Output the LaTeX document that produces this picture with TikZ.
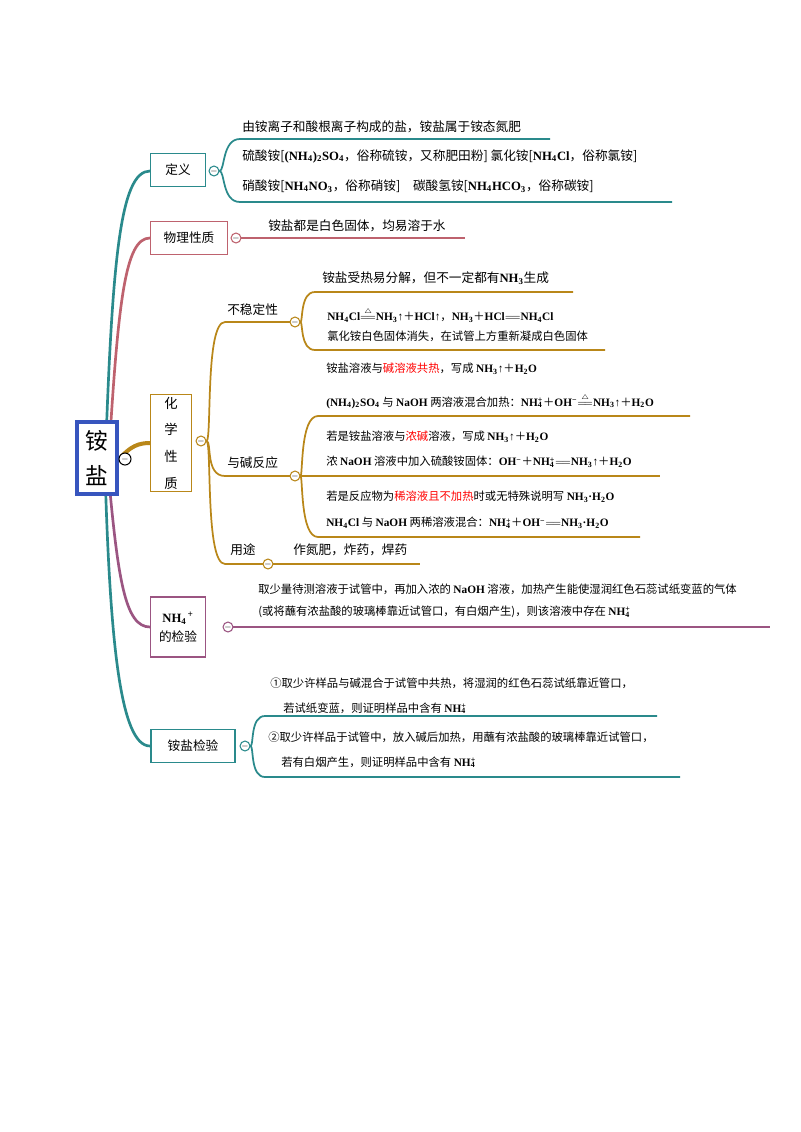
\documentclass[tikz,border=0pt]{standalone}
\usepackage{fontspec}
\setmainfont{Noto Sans CJK SC}
\newfontfamily\lat{Liberation Serif}
\newcommand\F[1]{{\lat\bfseries #1}}
\newcommand\sub[1]{\textsubscript{#1}}
\newcommand\pl{{\normalfont＋}}
\newcommand\nhf{\F{NH\rlap{\textsubscript{4}}\textsuperscript{+}}}
\newcommand\heq{$\stackrel{\scriptscriptstyle\triangle}{=\!=}$}
\definecolor{cteal}{RGB}{42,138,140}
\definecolor{crose}{RGB}{190,98,110}
\definecolor{cgold}{RGB}{185,135,25}
\definecolor{cpurp}{RGB}{155,85,130}
\definecolor{cblue}{RGB}{55,85,190}
\begin{document}
\begin{tikzpicture}[x=0.75pt,y=-0.75pt,
  every node/.style={font=\fontsize{9.5}{11}\selectfont},
  txt/.style={anchor=west,inner sep=0},
  box/.style={draw=#1,line width=1pt,fill=white,inner sep=2pt,align=center},
  circ/.style={circle,draw=#1,fill=white,line width=0.8pt,inner sep=0,minimum size=7pt,font=\fontsize{6}{6}\selectfont,text=black},
  br/.style={draw=#1,line width=1.3pt}]
\fill[white] (0,0) rectangle (800,1132);
% main branches
\draw[br=cteal,line width=2pt] (105,470) .. controls (112,260) and (120,171) .. (150,171);
\draw[br=crose,line width=2pt] (108,470) .. controls (118,300) and (125,238) .. (150,238);
\draw[br=cgold,line width=3pt] (117,462) .. controls (130,445) and (140,443) .. (150,443);
\draw[br=cpurp,line width=2pt] (108,470) .. controls (118,580) and (125,627) .. (150,627);
\draw[br=cteal,line width=2pt] (105,470) .. controls (110,640) and (120,746) .. (150,746);
% root
\node[box=cblue,line width=2.5pt,minimum width=30pt,minimum height=54pt,font=\fontsize{17}{26}\selectfont] (root) at (97,458) {铵\\盐};
\node[circ=black,minimum size=9pt] (rc) at (125,459) {$-$};
% 定义
\node[box=cteal,minimum width=41pt,minimum height=25pt] (def) at (178,170) {定义};
\node[circ=cteal] (dc) at (214,171) {$-$};
\draw[br=cteal] (dc) .. controls (225,171) and (222,139) .. (240,139) -- (550,139);
\draw[br=cteal] (dc) .. controls (225,171) and (222,202) .. (240,202) -- (672,202);
\node[txt] (d1) at (242,127) {由铵离子和酸根离子构成的盐，铵盐属于铵态氮肥};
\node[txt] (d2) at (242,156) {硫酸铵[\F{(NH\sub4)\sub2SO\sub4}，俗称硫铵，又称肥田粉] 氯化铵[\F{NH\sub4Cl}，俗称氯铵]};
\node[txt] (d3) at (242,186) {硝酸铵[\F{NH\sub4NO\sub3}，俗称硝铵]\quad 碳酸氢铵[\F{NH\sub4HCO\sub3}，俗称碳铵]};
% 物理性质
\node[box=crose,minimum width=58pt,minimum height=25pt] (phy) at (189,238) {物理性质};
\node[circ=crose] (pc) at (236,238) {$-$};
\draw[br=crose] (pc) -- (465,238);
\node[txt] (p1) at (268,226) {铵盐都是白色固体，均易溶于水};
% 化学性质
\node[box=cgold,minimum width=31pt,minimum height=67pt,font=\fontsize{10}{20}\selectfont] (chem) at (171,443) {化\\学\\性\\质};
\node[circ=cgold] (cc) at (201,441) {$-$};
\draw[br=cgold] (cc) .. controls (212,441) and (205,322) .. (225,322) -- (290,322);
\draw[br=cgold] (cc) .. controls (212,441) and (205,476) .. (225,476) -- (290,476);
\draw[br=cgold] (cc) .. controls (212,441) and (205,564) .. (225,564) -- (263,564);
\node[txt] (u) at (227,310) {不稳定性};
\node[circ=cgold] (uc) at (295,322) {$-$};
\draw[br=cgold] (uc) .. controls (303,322) and (300,292) .. (315,292) -- (573,292);
\draw[br=cgold] (uc) .. controls (303,322) and (300,350) .. (315,350) -- (605,350);
\node[txt] (u1) at (322,278) {铵盐受热易分解，但不一定都有\F{NH\sub3}生成};
\node[txt,font=\fontsize{8.5}{10}\selectfont] (u2) at (327,315) {\F{NH\sub4Cl}\heq\F{NH\sub3↑}\pl\F{HCl↑}，\F{NH\sub3}\pl\F{HCl}$=\!=$\F{NH\sub4Cl}};
\node[txt,font=\fontsize{8.5}{10}\selectfont] (u3) at (327,336) {氯化铵白色固体消失，在试管上方重新凝成白色固体};
\node[txt] (b) at (227,463) {与碱反应};
\node[circ=cgold] (bc) at (295,476) {$-$};
\draw[br=cgold] (bc) .. controls (303,476) and (300,416) .. (318,416) -- (690,416);
\draw[br=cgold] (bc) -- (660,476);
\draw[br=cgold] (bc) .. controls (303,476) and (300,537) .. (318,537) -- (640,537);
\begin{scope}[every node/.style={txt,font=\fontsize{8.5}{10}\selectfont}]
\node (b1) at (326,369) {铵盐溶液与\textcolor{red}{碱溶液共热}，写成 \F{NH\sub3↑}\pl\F{H\sub2O}};
\node (b2) at (326,401) {\F{(NH\sub4)\sub2SO\sub4} 与 \F{NaOH} 两溶液混合加热：\nhf\pl\F{OH\textsuperscript{−}}\heq\F{NH\sub3↑}\pl\F{H\sub2O}};
\node (b3) at (326,437) {若是铵盐溶液与\textcolor{red}{浓碱}溶液，写成 \F{NH\sub3↑}\pl\F{H\sub2O}};
\node (b4) at (326,462) {浓 \F{NaOH} 溶液中加入硫酸铵固体：\F{OH\textsuperscript{−}}\pl\nhf$=\!=$\F{NH\sub3↑}\pl\F{H\sub2O}};
\node (b5) at (326,497) {若是反应物为\textcolor{red}{稀溶液且不加热}时或无特殊说明写 \F{NH\sub3·H\sub2O}};
\node (b6) at (326,523) {\F{NH\sub4Cl} 与 \F{NaOH} 两稀溶液混合：\nhf\pl\F{OH\textsuperscript{−}}$=\!=$\F{NH\sub3·H\sub2O}};
\end{scope}
\node[txt] (y) at (230,550) {用途};
\node[circ=cgold] (yc) at (268,564) {$-$};
\draw[br=cgold] (yc) -- (420,564);
\node[txt] (y1) at (293,550) {作氮肥，炸药，焊药};
% NH4+ 的检验
\node[box=cpurp,minimum width=41pt,minimum height=45pt] (nh) at (178,627) {\F{NH\sub4}\textsuperscript{\,+}\\[3pt]的检验};
\node[circ=cpurp] (nc) at (228,627) {$-$};
\draw[br=cpurp] (nc) -- (770,627);
\node[txt,font=\fontsize{8.5}{10}\selectfont] (n1) at (258,589) {取少量待测溶液于试管中，再加入浓的 \F{NaOH} 溶液，加热产生能使湿润红色石蕊试纸变蓝的气体};
\node[txt,font=\fontsize{8.5}{10}\selectfont] (n2) at (258,612) {(或将蘸有浓盐酸的玻璃棒靠近试管口，有白烟产生)，则该溶液中存在 \nhf};
% 铵盐检验
\node[box=cteal,minimum width=63pt,minimum height=25pt] (ch) at (193,746) {铵盐检验};
\node[circ=cteal] (hc) at (245,746) {$-$};
\draw[br=cteal] (hc) .. controls (254,746) and (250,716) .. (265,716) -- (657,716);
\draw[br=cteal] (hc) .. controls (254,746) and (250,777) .. (265,777) -- (680,777);
\begin{scope}[every node/.style={txt,font=\fontsize{8.5}{10}\selectfont}]
\node (h1) at (270,683) {①取少许样品与碱混合于试管中共热，将湿润的红色石蕊试纸靠近管口，};
\node (h2) at (283,708) {若试纸变蓝，则证明样品中含有 \nhf};
\node (h3) at (268,737) {②取少许样品于试管中，放入碱后加热，用蘸有浓盐酸的玻璃棒靠近试管口，};
\node (h4) at (281,762) {若有白烟产生，则证明样品中含有 \nhf};
\end{scope}
\end{tikzpicture}
\end{document}
